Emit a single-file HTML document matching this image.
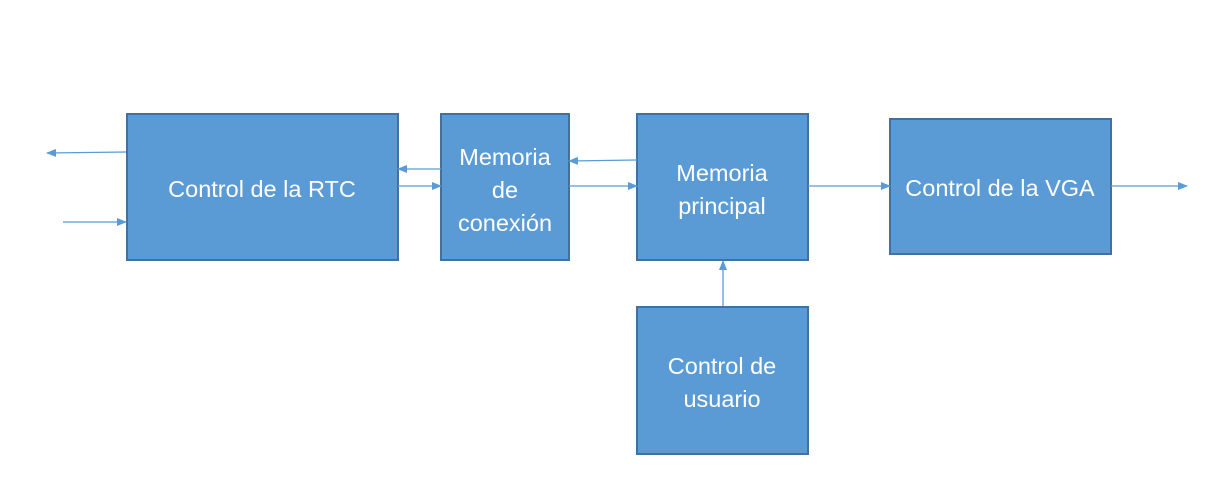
<!DOCTYPE html>
<html><head><meta charset="utf-8"><style>
html,body{margin:0;padding:0;background:#fff;}
svg{display:block;}
text{font-family:"Liberation Sans",sans-serif;font-size:23.5px;fill:#fff;text-anchor:middle;}
</style></head><body>
<svg width="1226" height="487" viewBox="0 0 1226 487">
<defs>
<marker id="a" markerWidth="10" markerHeight="8" refX="9" refY="4" orient="auto" markerUnits="userSpaceOnUse">
<path d="M0,0 L10,4 L0,8 z" fill="#5B9BD5"/></marker>
</defs>
<g fill="#5B9BD5" stroke="#41719C" stroke-width="2">
<rect x="127" y="114" width="271" height="146"/>
<rect x="441" y="114" width="128" height="146"/>
<rect x="637" y="114" width="171" height="146"/>
<rect x="890" y="119" width="221" height="135"/>
<rect x="637" y="307" width="171" height="147"/>
</g>
<g stroke="#5B9BD5" stroke-width="1.3" marker-end="url(#a)">
<line x1="126" y1="152" x2="47" y2="153"/>
<line x1="63" y1="222" x2="126" y2="222"/>
<line x1="441" y1="169" x2="398" y2="169"/>
<line x1="398" y1="186" x2="441" y2="186"/>
<line x1="637" y1="160" x2="569" y2="161"/>
<line x1="569" y1="186" x2="637" y2="186"/>
<line x1="808" y1="186" x2="890" y2="186"/>
<line x1="1111" y1="186" x2="1187" y2="186"/>
<line x1="723" y1="306" x2="723" y2="261"/>
</g>
<text x="262" y="197">Control de la RTC</text>
<text x="505" y="165">Memoria</text>
<text x="505" y="198">de</text>
<text x="505" y="231">conexión</text>
<text x="722" y="181">Memoria</text>
<text x="722" y="214">principal</text>
<text x="1000" y="196">Control de la VGA</text>
<text x="722" y="374">Control de</text>
<text x="722" y="407">usuario</text>
</svg>
</body></html>
